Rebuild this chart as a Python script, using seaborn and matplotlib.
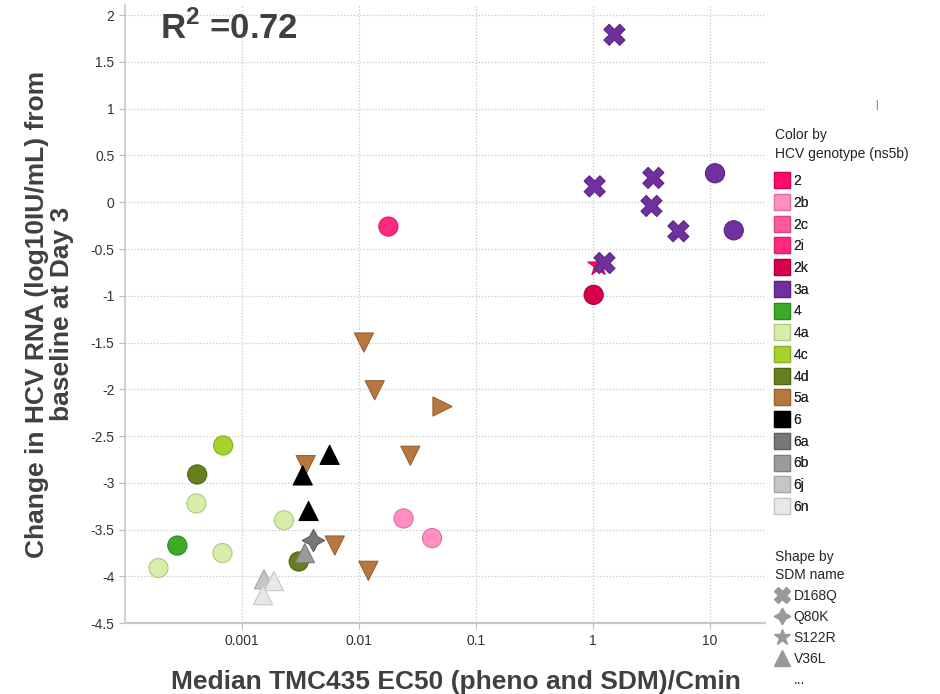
import matplotlib
matplotlib.use("Agg")
import matplotlib.pyplot as plt
import seaborn as sns
import pandas as pd
from matplotlib.lines import Line2D

# ---- data ----
ratio = [1.52, 1.03, 3.27, 3.15, 5.35, 1.25, 1.09, 11.0, 15.9, 1.01,
         0.0178, 0.011, 0.0136, 0.0514, 0.0274,
         6.9e-4, 4.14e-4, 4.07e-4, 2.8e-4, 1.93e-4, 6.8e-4, 2.28e-3, 3.05e-3,
         5.6e-3, 3.5e-3, 3.3e-3, 3.7e-3, 4.0e-3, 3.44e-3, 6.2e-3, 0.012,
         0.024, 0.042, 1.54e-3, 1.87e-3, 1.51e-3]
change = [1.79, 0.17, 0.26, -0.04, -0.31, -0.65, -0.67, 0.31, -0.30, -0.99,
          -0.26, -1.50, -2.01, -2.18, -2.71,
          -2.60, -2.91, -3.22, -3.67, -3.91, -3.75, -3.40, -3.84,
          -2.70, -2.81, -2.92, -3.30, -3.61, -3.75, -3.67, -3.94,
          -3.38, -3.59, -4.03, -4.05, -4.20]
genotype = ["3a", "3a", "3a", "3a", "3a", "3a", "2", "3a", "3a", "2k",
            "2i", "5a", "5a", "5a", "5a",
            "4c", "4d", "4a", "4", "4a", "4a", "4a", "4d",
            "6", "5a", "6", "6", "6a", "6b", "5a", "5a",
            "2b", "2b", "6j", "6n", "6n"]
sdm = ["D168Q", "D168Q", "D168Q", "D168Q", "D168Q", "D168Q", "S122R", "none", "none", "none",
       "none", "other A", "other A", "other B", "other A",
       "none", "none", "none", "none", "none", "none", "none", "none",
       "V36L", "other A", "V36L", "V36L", "Q80K", "V36L", "other A", "other A",
       "none", "none", "V36L", "V36L", "V36L"]

genotypes = ["2", "2b", "2c", "2i", "2k", "3a", "4", "4a", "4c", "4d",
             "5a", "6", "6a", "6b", "6j", "6n"]
geno_colors = ["#FF0A6C", "#FF8EC2", "#FF5A9E", "#FF2A80", "#D6004F", "#7030A0",
               "#3FAA2A", "#D9EDAA", "#A6D22C", "#66801E", "#B8773F", "#000000",
               "#777777", "#9B9B9B", "#C6C6C6", "#E8E8E8"]
geno_edges = ["#D6005A", "#D9709E", "#D94882", "#D91F68", "#AA003E", "#5A2480",
              "#2E8A1E", "#B0C885", "#88AF20", "#4F6516", "#966030", "#000000",
              "#5E5E5E", "#7E7E7E", "#A6A6A6", "#C6C6C6"]
legend_sdms = ["D168Q", "Q80K", "S122R", "V36L"]

x_ticks = [0.001, 0.01, 0.1, 1, 10]
x_ticklabels = ["0.001", "0.01", "0.1", "1", "10"]
y_ticks = [2, 1.5, 1, 0.5, 0, -0.5, -1, -1.5, -2, -2.5, -3, -3.5, -4, -4.5]

df = pd.DataFrame({"ratio": ratio, "change": change, "genotype": genotype, "sdm": sdm})

# ---- style ----
sns.set_style("white")
plt.rcParams["font.family"] = ["Liberation Sans", "DejaVu Sans"]
plt.rcParams["mathtext.fontset"] = "custom"
plt.rcParams["mathtext.bf"] = "Liberation Sans:bold"
plt.rcParams["mathtext.rm"] = "Liberation Sans"

palette = dict(zip(genotypes, geno_colors))
edge_map = dict(zip(genotypes, geno_edges))
star4 = (4, 1, 0)
markers = {"none": "o", "D168Q": "X", "Q80K": star4, "S122R": "*", "V36L": "^",
           "other A": "v", "other B": ">"}
sizes = {"none": 190, "D168Q": 230, "Q80K": 260, "S122R": 260, "V36L": 190,
         "other A": 190, "other B": 190}

fig = plt.figure(figsize=(9.4, 6.94), dpi=100)
ax = fig.add_axes([0.133, 0.102, 0.681, 0.891])

for s_name in ["none", "other A", "other B", "V36L", "Q80K", "S122R", "D168Q"]:
    sub = df[df["sdm"] == s_name]
    if sub.empty:
        continue
    sns.scatterplot(data=sub, x="ratio", y="change", hue="genotype", palette=palette,
                    marker=markers[s_name], s=sizes[s_name], ax=ax, legend=False,
                    linewidth=0.8, zorder=3)
    coll = ax.collections[-1]
    coll.set_edgecolors([edge_map[g] for g in sub["genotype"]])

ax.set_xscale("log")
ax.set_xlim(1.0e-4, 29.5)
ax.set_ylim(-4.5, 2.11)
ax.set_xticks(x_ticks)
ax.set_xticklabels(x_ticklabels)
ax.minorticks_off()
ax.set_yticks(y_ticks)
ax.set_yticklabels([f"{v:g}" for v in y_ticks])
ax.tick_params(axis="both", labelsize=10, colors="#333333", length=4, width=0.8,
               direction="out", color="#BBBBBB", bottom=True, left=True)
ax.grid(True, linestyle=(0, (1, 1.5)), color="#C8C8C8", linewidth=0.9)
ax.set_axisbelow(True)
for side in ["top", "right"]:
    ax.spines[side].set_visible(False)
ax.spines["left"].set_color("#C8C8C8")
ax.spines["bottom"].set_color("#C8C8C8")
ax.spines["left"].set_linewidth(1.2)
ax.spines["bottom"].set_linewidth(1.6)

ax.set_xlabel("Median TMC435 EC50 (pheno and SDM)/Cmin", fontsize=19,
              fontweight="bold", color="#404040", labelpad=16)
ax.xaxis.label.set_x(0.517)
ax.set_ylabel("Change in HCV RNA (log10IU/mL) from\nbaseline at Day 3", fontsize=19,
              fontweight="bold", color="#404040", labelpad=12, linespacing=1.05)

ax.text(0.055, 0.962, r"R$^\mathbf{2}$ =0.72", transform=ax.transAxes, fontsize=25,
        fontweight="bold", color="#404040", va="center", ha="left")

# ---- legends ----
fig.text(0.8245, 0.8156, "Color by\nHCV genotype (ns5b)", fontsize=10, color="#222222",
         ha="left", va="top", linespacing=1.45)
color_handles = [Line2D([], [], marker="s", linestyle="none", markersize=11,
                        markerfacecolor=c, markeredgecolor=e, markeredgewidth=0.9)
                 for c, e in zip(geno_colors, geno_edges)]
leg1 = fig.legend(color_handles, genotypes,
                  loc="upper left", bbox_to_anchor=(0.819, 0.757), frameon=False,
                  fontsize=10, handlelength=1.0, handletextpad=0.3,
                  labelspacing=0.555, borderaxespad=0)

shape_handles = [Line2D([], [], marker=markers[m], linestyle="none", markersize=12,
                        markerfacecolor="#999999", markeredgecolor="#999999")
                 for m in legend_sdms]
shape_handles.append(Line2D([], [], linestyle="none"))
leg2 = fig.legend(shape_handles, legend_sdms + ["..."], title="Shape by\nSDM name",
                  loc="upper left", bbox_to_anchor=(0.819, 0.216), frameon=False,
                  fontsize=10, title_fontsize=10, handlelength=1.0, handletextpad=0.3,
                  labelspacing=0.5, alignment="left", borderaxespad=0)
leg2.get_title().set_linespacing(1.4)
fig.add_artist(leg1)

fig.text(0.932, 0.848, "|", fontsize=7, color="#555555", ha="center", va="center")

fig.savefig("out.png", dpi=100)
